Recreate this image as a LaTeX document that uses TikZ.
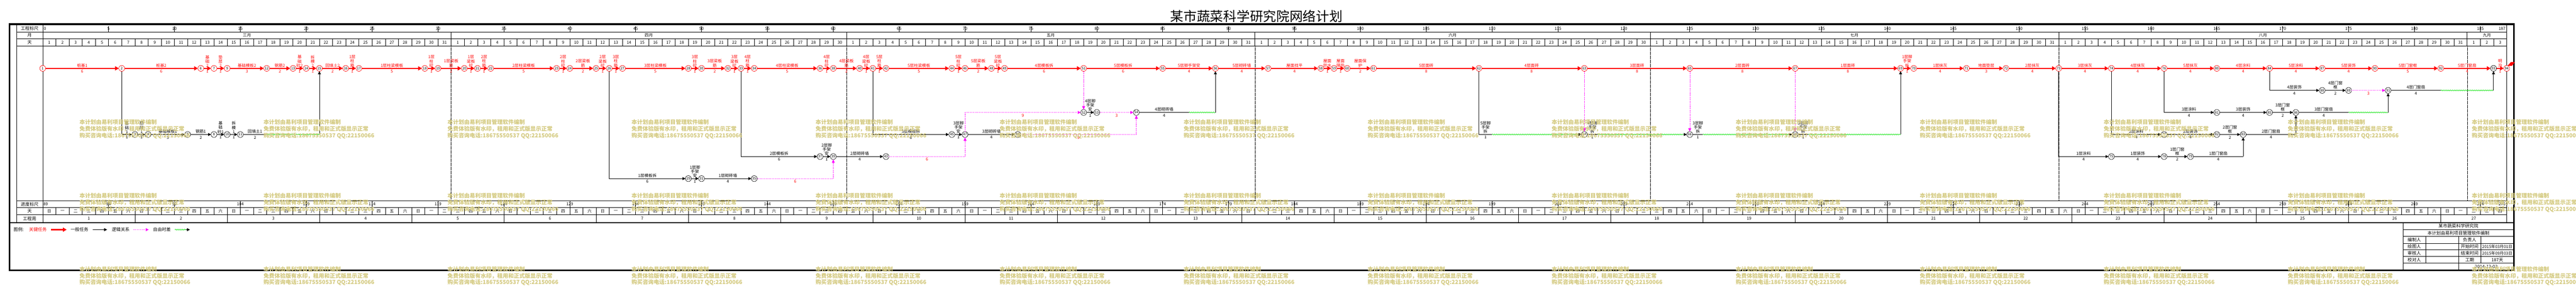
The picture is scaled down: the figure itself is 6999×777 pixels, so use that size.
\documentclass[tikz,border=0pt]{standalone}
\usepackage{fontspec}
\setmainfont{Noto Sans CJK SC}
\usetikzlibrary{arrows.meta,decorations.pathmorphing}
\definecolor{wm}{RGB}{212,202,128}
\definecolor{mg}{RGB}{255,0,255}
\definecolor{gr}{RGB}{0,225,0}
\newcommand{\DX}[1]{116+35.8*(#1)}
\newcommand{\cedge}[4]{\draw[crit] (n#1) -- node[lbl]{#3} node[dur]{#4} (n#2);}
\newcommand{\gedge}[4]{\draw[gen] (n#1) -- node[lbl]{#3} node[dur]{#4} (n#2);}
\newcommand{\gdrop}[4]{\draw[gen] (n#1) |- node[lbl,pos=0.75]{#3} node[dur,pos=0.75]{#4} (n#2);}
\begin{document}
\begin{tikzpicture}[x=1pt,y=-1pt,
  every node/.style={inner sep=0pt,outer sep=0pt},
  thinln/.style={black,line width=0.9pt},
  cel/.style={font=\fontsize{11}{12}\selectfont},
  hdr/.style={font=\fontsize{12}{13}\selectfont},
  redev/.style={circle,draw=red,fill=white,line width=0.9pt,minimum size=16pt,font=\fontsize{9.5}{10}\selectfont},
  blkev/.style={circle,draw=black,fill=white,line width=0.9pt,minimum size=16pt,font=\fontsize{9.5}{10}\selectfont},
  crit/.style={red,line width=3.6pt,-{Triangle[length=10pt,width=11pt]}},
  gen/.style={black,line width=1.2pt,-{Triangle[length=8pt,width=8pt]}},
  genl/.style={black,line width=1.2pt},
  flt/.style={gr,line width=0.9pt,decorate,decoration={snake,amplitude=1.4pt,segment length=5pt}},
  lgh/.style={mg,line width=1.2pt,dash pattern=on 1.2pt off 2.2pt,-{Triangle[length=8pt,width=8pt]}},
  lgh0/.style={mg,line width=1.2pt,dash pattern=on 1.2pt off 2.2pt},
  lgv/.style={mg,line width=0.7pt,dash pattern=on 3pt off 2pt,-{Triangle[length=9pt,width=8pt]}},
  lgv0/.style={mg,line width=0.7pt,dash pattern=on 3pt off 2pt},
  lbl/.style={above=3pt,align=center,font=\fontsize{11}{11.5}\selectfont},
  dur/.style={below=4pt,font=\fontsize{11}{11.5}\selectfont},
  wmk/.style={anchor=west,text=wm,font=\bfseries\fontsize{15}{16}\selectfont},
  tb/.style={font=\fontsize{12}{13}\selectfont},
  mdot/.style={black,line width=0.6pt,densely dotted}]
\useasboundingbox (0,0) rectangle (6999,777);
\fill[white] (0,0) rectangle (6999,777);
% title
\node[font=\fontsize{36}{36}\selectfont] (title) at (3414,44) {某市蔬菜科学研究院网络计划};
% frame
\draw[line width=3.8pt] (26,66) rectangle (6830,736);
\draw[line width=6pt] (24,66) -- (6832,66);
\draw[line width=3.6pt] (26,606) -- (6830,606);
% table lines
\draw[thinln] (45,69) -- (45,606);
\draw[thinln] (116,69) -- (116,606);
\draw[thinln] (6810,69) -- (6810,606);
\foreach \yy in {87,106,125,546,565,584}{\draw[thinln] (45,\yy) -- (6810,\yy);}
% left labels
\node[hdr] (h1) at (80.5,77.5) {工程标尺};
\node[hdr] (h2) at (80.5,96.5) {月};
\node[hdr] (h3) at (80.5,115.5) {天};
\node[hdr] (h4) at (80.5,555.5) {进度标尺};
\node[hdr] (h5) at (80.5,574.5) {天};
\node[hdr] (h6) at (80.5,595) {工程周};
% day cells
\foreach \d in {1,...,186}{
  \draw[thinln] ({\DX{\d}},106) -- ({\DX{\d}},125);
  \draw[thinln] ({\DX{\d}},565) -- ({\DX{\d}},584);
}
% months and day numbers
\foreach \s/\n/\m in {0/31/三月,31/30/四月,61/31/五月,92/30/六月,122/31/七月,153/31/八月,184/3/九月}{
  \node[cel] (m\s) at ({\DX{\s+\n/2}},96.5) {\m};
  \foreach \k in {1,...,\n}{\node[cel] (d\s-\k) at ({\DX{\s+\k-0.5}},115.5) {\k};}
}
\foreach \s in {31,61,92,122,153,184}{
  \draw[thinln] ({\DX{\s}},87) -- ({\DX{\s}},106);
  \draw[mdot] ({\DX{\s}},125) -- ({\DX{\s}},546);
}
% weekdays
\foreach \d in {0,...,186}{
  \pgfmathtruncatemacro{\w}{mod(\d,7)}
  \node[cel] (wd\d) at ({\DX{\d+0.5}},574.5) {\ifcase\w 日\or 一\or 二\or 三\or 四\or 五\or 六\fi};
}
% scales
\node[cel,anchor=west] (t0) at (119,77.5) {0};
\node[cel,anchor=east] (t187) at (6807,77.5) {187};
\node[cel,anchor=west] (p0) at (118,555.5) {89};
\node[cel,anchor=east] (p187) at (6807,555.5) {276};
\foreach \d in {5,10,...,185}{
  \draw[thinln] ({\DX{\d}},71) -- ({\DX{\d}},87);
  \node[cel] (t\d) at ({\DX{\d}},77.5) {\d};
  \draw[thinln] ({\DX{\d}},548) -- ({\DX{\d}},565);
  \pgfmathtruncatemacro{\p}{89+\d}
  \node[cel] (p\d) at ({\DX{\d}},555.5) {\p};
}
% weeks
\foreach \w in {1,...,26}{
  \draw[thinln] ({\DX{7*\w}},584) -- ({\DX{7*\w}},606);
  \node[cel] (wk\w) at ({\DX{7*\w-3.5}},595) {\w};
}
\node[cel] (wk27) at ({\DX{184.5}},595) {27};
% events
\foreach \n/\d in {1/0,2/6,6/12,7/13,9/14,12/17,13/19,14/20,15/21,16/23,17/24,18/29,19/30,20/32,21/33,22/34,23/39,24/40,25/42,26/43,27/44,28/49,30/50,32/52,33/53,34/54,36/59,38/60,40/62,41/63,42/64,44/69,46/70,48/72,49/73,51/79,55/85,56/89,57/93,58/97,59/98,60/99,61/101,62/109,63/117,65/125,67/133,69/141,70/142,71/146,72/149,73/153,74/157,76/161,80/165,84/169,87/173,90/177,92/182,94/187}{
  \node[redev] (n\n) at ({\DX{\d}},186) {\n};
}
\foreach \n/\d/\yy in {3/7/366,4/8/366,5/11/366,8/13/366,10/14/366,11/15/366,29/49/486,31/50/486,35/54/486,37/59/426,39/60/426,43/64/426,45/69/366,47/70/366,50/74/366,52/79/306,53/80/306,54/83/306,64/117/366,66/125/366,68/133/366,88/173/246,89/175/246,91/178/246,81/165/306,85/169/306,86/171/306,77/161/366,82/165/366,83/167/366,75/157/426,78/161/426,79/163/426,93/186/186}{
  \node[blkev] (n\n) at ({\DX{\d}},\yy) {\n};
}
% critical path
\cedge{1}{2}{桩基1}{6}
\cedge{2}{6}{桩基2}{6}
\cedge{6}{7}{基\\础\\2}{1}
\cedge{7}{9}{垫\\层\\2}{1}
\cedge{9}{12}{基础模板2}{3}
\cedge{12}{13}{钢筋2}{2}
\cedge{13}{14}{基\\础\\砼2}{1}
\cedge{14}{15}{拆\\模\\2}{1}
\cedge{15}{16}{回填土2}{2}
\cedge{16}{17}{1层\\柱\\筋}{1}
\cedge{17}{18}{1层柱梁模板}{5}
\cedge{18}{19}{1层\\柱\\砼}{1}
\cedge{19}{20}{1层梁板\\筋}{2}
\cedge{20}{21}{1层\\梁板\\砼}{1}
\cedge{21}{22}{2层\\柱\\筋}{1}
\cedge{22}{23}{2层柱梁模板}{5}
\cedge{23}{24}{2层\\柱\\砼}{1}
\cedge{24}{25}{2层梁板\\筋}{2}
\cedge{25}{26}{2层\\梁板\\砼}{1}
\cedge{26}{27}{3层\\柱\\筋}{1}
\cedge{27}{28}{3层柱梁模板}{5}
\cedge{28}{30}{3层\\柱\\砼}{1}
\cedge{30}{32}{3层梁板\\筋}{2}
\cedge{32}{33}{3层\\梁板\\砼}{1}
\cedge{33}{34}{4层\\柱\\筋}{1}
\cedge{34}{36}{4层柱梁模板}{5}
\cedge{36}{38}{4层\\柱\\砼}{1}
\cedge{38}{40}{4层梁板\\筋}{2}
\cedge{40}{41}{4层\\梁板\\砼}{1}
\cedge{41}{42}{5层\\柱\\筋}{1}
\cedge{42}{44}{5层柱梁模板}{5}
\cedge{44}{46}{5层\\柱\\砼}{1}
\cedge{46}{48}{5层梁板\\筋}{2}
\cedge{48}{49}{5层\\梁板\\砼}{1}
\cedge{49}{51}{4层模板拆}{6}
\cedge{51}{55}{5层模板拆}{6}
\cedge{55}{56}{5层脚手架安}{4}
\cedge{56}{57}{5层砌砖墙}{4}
\cedge{57}{58}{屋面找平}{4}
\cedge{58}{59}{屋面\\防水}{1}
\cedge{59}{60}{屋面\\隔热}{1}
\cedge{60}{61}{屋面保\\护}{2}
\cedge{61}{62}{5层面砖}{8}
\cedge{62}{63}{4层面砖}{8}
\cedge{63}{65}{3层面砖}{8}
\cedge{65}{67}{2层面砖}{8}
\cedge{67}{69}{1层面砖}{8}
\cedge{69}{70}{1层脚\\手架\\拆}{1}
\cedge{70}{71}{1层抹灰}{4}
\cedge{71}{72}{地面垫层}{3}
\cedge{72}{73}{2层抹灰}{4}
\cedge{73}{74}{3层抹灰}{4}
\cedge{74}{76}{4层抹灰}{4}
\cedge{76}{80}{5层抹灰}{4}
\cedge{80}{84}{4层涂料}{4}
\cedge{84}{87}{5层涂料}{4}
\cedge{87}{90}{5层装饰}{4}
\cedge{90}{92}{5层门窗框}{5}
\cedge{92}{93}{5层门窗扇}{4}
\cedge{93}{94}{明\\沟}{1}
\coordinate (flagA) at (6813,179);
\fill[red] (flagA) -- (6822,169) -- (6833,169) -- (6825,179) -- cycle;
% foundation branch
\gdrop{2}{3}{基\\础\\1}{1}
\gedge{3}{4}{垫\\层\\1}{1}
\gedge{4}{5}{基础模板1}{3}
\gedge{5}{8}{钢筋1}{2}
\gedge{8}{10}{基\\础\\砼1}{1}
\gedge{10}{11}{拆\\模\\1}{1}
\coordinate (a11) at ({\DX{17}},366);
\coordinate (b11) at ({\DX{21}},366);
\draw[genl] (n11) -- node[lbl]{回填土1} node[dur]{2} (a11);
\draw[flt] (a11) -- (b11);
\draw[gen] (b11) -- (n15);
% wall / scaffold branches
\gdrop{26}{29}{1层模板拆}{6}
\gedge{29}{31}{1层脚\\手架\\安}{1}
\gedge{31}{35}{1层砌砖墙}{4}
\coordinate (a35) at ({\DX{60}},486);
\draw[lgh0] (n35) -- node[dur,text=red]{6} (a35);
\draw[lgv] (a35) -- (n39);
\gdrop{33}{37}{2层模板拆}{6}
\gedge{37}{39}{2层脚\\手架\\安}{1}
\gedge{39}{43}{2层砌砖墙}{4}
\coordinate (a43) at ({\DX{70}},426);
\draw[lgh0] (n43) -- node[dur,text=red]{6} (a43);
\draw[lgv] (a43) -- (n47);
\gdrop{41}{45}{3层模板拆}{6}
\gedge{45}{47}{3层脚\\手架\\安}{1}
\gedge{47}{50}{3层砌砖墙}{4}
\coordinate (a50) at ({\DX{83}},366);
\draw[lgh0] (n50) -- node[dur,text=red]{9} (a50);
\draw[lgv] (a50) -- (n54);
\coordinate (a47) at ({\DX{70}},306);
\draw[lgv0] (n47) -- (a47);
\draw[lgh] (a47) -- node[dur,text=red]{9} (n52);
\draw[lgv] (n51) -- (n52);
\gedge{52}{53}{4层脚\\手架\\安}{1}
\draw[lgh] (n53) -- node[dur,text=red]{3} (n54);
\coordinate (a54) at ({\DX{87}},306);
\coordinate (b54) at ({\DX{89}},306);
\draw[genl] (n54) -- node[lbl]{4层砌砖墙} node[dur]{4} (a54);
\draw[flt] (a54) -- (b54);
\draw[gen] (b54) -- (n56);
% scaffold removal
\coordinate (a62) at ({\DX{110}},366);
\coordinate (b62) at ({\DX{117}-17},366);
\draw[genl] (n62) |- node[lbl,pos=0.75]{5层脚\\手架\\拆} node[dur,pos=0.75]{1} (a62);
\draw[flt] (a62) -- (b62);
\draw[gen] (b62) -- (n64);
\draw[lgv] (n63) -- (n64);
\coordinate (a64) at ({\DX{118}},366);
\coordinate (b64) at ({\DX{125}-17},366);
\draw[genl] (n64) -- node[lbl]{4层脚\\手架\\拆} node[dur]{1} (a64);
\draw[flt] (a64) -- (b64);
\draw[gen] (b64) -- (n66);
\draw[lgv] (n65) -- (n66);
\coordinate (a66) at ({\DX{126}},366);
\coordinate (b66) at ({\DX{133}-17},366);
\draw[genl] (n66) -- node[lbl]{3层脚\\手架\\拆} node[dur]{1} (a66);
\draw[flt] (a66) -- (b66);
\draw[gen] (b66) -- (n68);
\draw[lgv] (n67) -- (n68);
\coordinate (a68) at ({\DX{134}},366);
\coordinate (b68) at ({\DX{141}},366);
\draw[genl] (n68) -- node[lbl]{2层脚\\手架\\拆} node[dur]{1} (a68);
\draw[flt] (a68) -- (b68);
\draw[gen] (b68) -- (n69);
% finishing branches
\gdrop{73}{75}{1层涂料}{4}
\gedge{75}{78}{1层装饰}{4}
\gedge{78}{79}{1层门窗\\框}{2}
\coordinate (a79) at ({\DX{167}},426);
\draw[genl] (n79) -- node[lbl]{1层门窗扇} node[dur]{4} (a79);
\draw[gen] (a79) -- (n83);
\gdrop{74}{77}{2层涂料}{4}
\gedge{77}{82}{2层装饰}{4}
\gedge{82}{83}{2层门窗\\框}{2}
\coordinate (a83) at ({\DX{171}},366);
\draw[genl] (n83) -- node[lbl]{2层门窗扇} node[dur]{4} (a83);
\draw[gen] (a83) -- (n86);
\gdrop{76}{81}{3层涂料}{4}
\gedge{81}{85}{3层装饰}{4}
\gedge{85}{86}{3层门窗\\框}{2}
\coordinate (a86) at ({\DX{175}},306);
\coordinate (b86) at ({\DX{178}},306);
\draw[genl] (n86) -- node[lbl]{3层门窗扇} node[dur]{4} (a86);
\draw[flt] (a86) -- (b86);
\draw[gen] (b86) -- (n91);
\gdrop{84}{88}{4层装饰}{4}
\gedge{88}{89}{4层门窗\\框}{2}
\draw[lgh] (n89) -- node[dur,text=red]{3} (n91);
\coordinate (a91) at ({\DX{182}},246);
\coordinate (b91) at ({\DX{186}},246);
\draw[genl] (n91) -- node[lbl]{4层门窗扇} node[dur]{4} (a91);
\draw[flt] (a91) -- (b91);
\draw[gen] (b91) -- (n93);
% legend
\node[tb,anchor=west] (lg0) at (37,625) {图例:};
\node[tb,anchor=west,text=red] (lg1) at (79,625) {关键任务};
\coordinate (lr1) at (138,625); \coordinate (lr2) at (181,625);
\draw[crit] (lr1) -- (lr2);
\node[tb,anchor=west] (lg2) at (192,625) {一般任务};
\coordinate (lb1) at (252,625); \coordinate (lb2) at (291,625);
\draw[gen] (lb1) -- (lb2);
\node[tb,anchor=west] (lg3) at (304,625) {逻辑关系};
\coordinate (lm1) at (362,625); \coordinate (lm2) at (404,625);
\draw[lgh] (lm1) -- (lm2);
\node[tb,anchor=west] (lg4) at (416,625) {自由时差};
\coordinate (lf1) at (475,625); \coordinate (lf2) at (505,625); \coordinate (lf3) at (516,625);
\draw[flt] (lf1) -- (lf2);
\draw[gen] (lf2) -- (lf3);
% title block
\draw[line width=1.6pt] (6529,606) -- (6529,736);
\foreach \yy in {625,643,662,680,698,716}{\draw[thinln] (6529,\yy) -- (6830,\yy);}
\draw[thinln] (6590,643) -- (6590,716);
\draw[thinln] (6680,643) -- (6680,736);
\draw[thinln] (6740,643) -- (6740,716);
\node[tb] (tb1) at (6679.5,615.5) {某市蔬菜科学研究院};
\node[tb] (tb2) at (6679.5,634) {本计划由易利项目管理软件编制};
\node[tb] (tb3) at (6559.5,652.5) {编制人};
\node[tb] (tb4) at (6710,652.5) {负责人};
\node[tb] (tb5) at (6559.5,671) {绘图人};
\node[tb] (tb6) at (6710,671) {开始时间};
\node[tb,font=\fontsize{11}{12}\selectfont] (tb7) at (6785,671) {2015年03月01日};
\node[tb] (tb8) at (6559.5,689) {审核人};
\node[tb] (tb9) at (6710,689) {结束时间};
\node[tb,font=\fontsize{11}{12}\selectfont] (tb10) at (6785,689) {2015年09月03日};
\node[tb] (tb11) at (6559.5,707) {校对人};
\node[tb] (tb12) at (6710,707) {工期};
\node[tb] (tb13) at (6785,707) {187天};
\node[tb] (tb14) at (6755,726) {2014-12-02};
% watermarks
\foreach \i in {0,...,13}{\foreach \yy in {333,533,733}{
  \node[wmk] (wa\i-\yy) at ({216+500*\i},\yy) {本计划由易利项目管理软件编制};
  \node[wmk] (wb\i-\yy) at ({216+500*\i},\yy+18) {免费体验版有水印，租用和正式版显示正常};
  \node[wmk] (wc\i-\yy) at ({216+500*\i},\yy+36) {购买咨询电话:18675550537 QQ:22150066};
}}
\end{tikzpicture}
\end{document}
